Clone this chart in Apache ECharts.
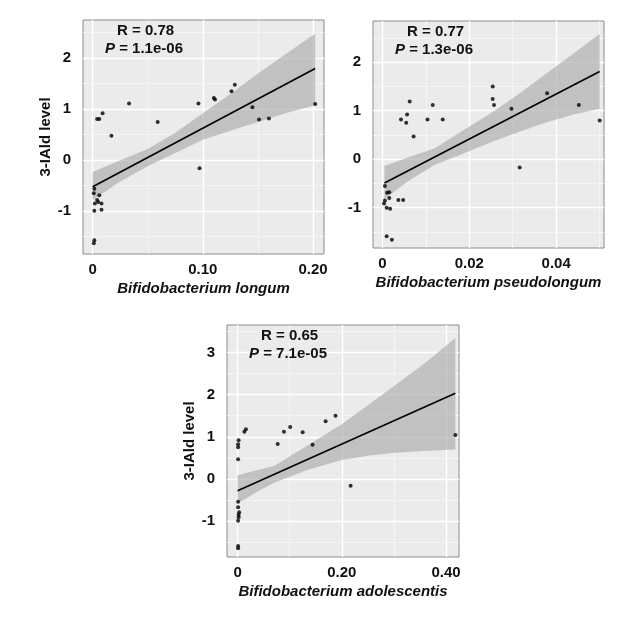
<!DOCTYPE html>
<html><head><meta charset="utf-8">
<script src="https://cdn.jsdelivr.net/npm/echarts@6/dist/echarts.min.js"></script>
<style>html,body{margin:0;padding:0;background:#fff}#c{width:622px;height:617px}</style>
</head><body><div id="c"></div>
<script>
// Panel 1: Bifidobacterium longum
const longumPts = [[0.033,1.11],[0.096,1.11],[0.110,1.22],[0.111,1.19],[0.126,1.35],[0.129,1.48],[0.145,1.04],[0.151,0.80],[0.160,0.82],[0.202,1.10],[0.059,0.75],[0.097,-0.16],[0.017,0.48],[0.009,0.92],[0.004,0.81],[0.006,0.81],[0.0015,-0.56],[0.001,-0.65],[0.006,-0.69],[0.004,-0.78],[0.005,-0.82],[0.008,-0.85],[0.002,-0.85],[0.0015,-0.99],[0.008,-0.97],[0.0015,-1.57],[0.001,-1.63]];
const longumLine = [[0,-0.52],[0.202,1.80]];
const longumBand = [[0,-0.78,-0.23],[0.025,-0.42,0.0],[0.05,-0.12,0.22],[0.075,0.14,0.54],[0.10,0.40,0.92],[0.125,0.58,1.30],[0.15,0.75,1.70],[0.175,0.92,2.08],[0.202,1.08,2.48]];
// Panel 2: Bifidobacterium pseudolongum
const pseudoPts = [[0.0043,0.82],[0.0057,0.92],[0.0055,0.75],[0.0063,1.19],[0.0072,0.47],[0.0104,0.82],[0.0116,1.12],[0.0139,0.82],[0.0254,1.50],[0.0254,1.24],[0.0257,1.12],[0.0297,1.04],[0.0316,-0.17],[0.0379,1.36],[0.0452,1.12],[0.0500,0.80],[0.0006,-0.55],[0.0011,-0.69],[0.0016,-0.68],[0.0006,-0.85],[0.0016,-0.80],[0.0004,-0.91],[0.001,-1.0],[0.0018,-1.02],[0.0037,-0.84],[0.0048,-0.84],[0.001,-1.59],[0.0022,-1.66]];
const pseudoLine = [[0.0005,-0.49],[0.050,1.81]];
const pseudoBand = [[0.0005,-0.82,-0.14],[0.006,-0.45,0.04],[0.012,-0.12,0.22],[0.019,0.13,0.62],[0.025,0.35,0.95],[0.031,0.55,1.32],[0.0375,0.75,1.75],[0.044,0.92,2.18],[0.050,1.04,2.58]];
// Panel 3: Bifidobacterium adolescentis
const adolPts = [[0.002,0.92],[0.001,0.82],[0.001,0.75],[0.001,0.47],[0.013,1.12],[0.016,1.18],[0.077,0.83],[0.089,1.12],[0.101,1.23],[0.125,1.11],[0.144,0.81],[0.169,1.37],[0.188,1.50],[0.217,-0.16],[0.418,1.04],[0.001,-0.54],[0.001,-0.67],[0.003,-0.79],[0.002,-0.85],[0.002,-0.91],[0.001,-0.99],[0.001,-1.59],[0.001,-1.64]];
const adolLine = [[0,-0.28],[0.418,2.03]];
const adolBand = [[0,-0.58,0.09],[0.035,-0.32,0.20],[0.07,-0.09,0.31],[0.135,0.22,0.80],[0.2,0.45,1.30],[0.25,0.55,1.75],[0.3,0.62,2.20],[0.36,0.66,2.75],[0.418,0.70,3.34]];

const xMajor1=[0,0.1,0.2], xMinor1=[0.05,0.15];
const xMajor2=[0,0.02,0.04], xMinor2=[0.01,0.03,0.05];
const xMajor3=[0,0.2,0.4], xMinor3=[0.1,0.3];
const yMajor12=[-1,0,1,2], yMinor12=[-1.5,-0.5,0.5,1.5,2.5];
const yMajor3=[-1,0,1,2,3], yMinor3=[-1.5,-0.5,0.5,1.5,2.5,3.5];
const xLabels1=['0','0.10','0.20'], xLabels2=['0','0.02','0.04'], xLabels3=['0','0.20','0.40'];

const panels=[
 {grid:{left:83,top:20,width:241,height:234},x:[-0.0088,0.21],y:[-1.84,2.75],xMaj:xMajor1,xMin:xMinor1,xl:xLabels1,yMaj:yMajor12,yMin:yMinor12,xname:'Bifidobacterium longum',yname:'3-IAld level',pts:longumPts,line:longumLine,band:longumBand,R:'R = 0.78',P:'1.1e-06'},
 {grid:{left:373,top:21,width:231,height:227},x:[-0.00214,0.051],y:[-1.83,2.85],xMaj:xMajor2,xMin:xMinor2,xl:xLabels2,yMaj:yMajor12,yMin:yMinor12,xname:'Bifidobacterium pseudolongum',yname:'',pts:pseudoPts,line:pseudoLine,band:pseudoBand,R:'R = 0.77',P:'1.3e-06'},
 {grid:{left:227,top:325,width:232,height:232},x:[-0.0203,0.425],y:[-1.85,3.65],xMaj:xMajor3,xMin:xMinor3,xl:xLabels3,yMaj:yMajor3,yMin:yMinor3,xname:'Bifidobacterium adolescentis',yname:'3-IAld level',pts:adolPts,line:adolLine,band:adolBand,R:'R = 0.65',P:'7.1e-05'}
];
const F='Arial, "Liberation Sans", sans-serif';
const option={animation:false,grid:[],xAxis:[],yAxis:[],series:[],graphic:[]};
panels.forEach((p,i)=>{
 option.grid.push(Object.assign({show:true,backgroundColor:'#ebebeb',borderColor:'#8a8a8a',borderWidth:1},p.grid));
 const xl=p.xl;
 option.xAxis.push({type:'value',gridIndex:i,min:p.x[0],max:p.x[1],
  axisLine:{show:false},axisTick:{show:false},
  axisLabel:{customValues:p.xMaj,formatter:v=>xl[p.xMaj.findIndex(m=>Math.abs(m-v)<1e-9)]||'',color:'#111',fontWeight:'bold',fontSize:15,fontFamily:F,margin:8},
  splitLine:{show:false},
  name:p.xname,nameLocation:'middle',nameGap:27,nameTextStyle:{fontStyle:'italic',fontWeight:'bold',fontSize:15,fontFamily:F,color:'#111'}});
 option.yAxis.push({type:'value',gridIndex:i,min:p.y[0],max:p.y[1],
  axisLine:{show:false},axisTick:{show:false},
  axisLabel:{customValues:p.yMaj,color:'#111',fontWeight:'bold',fontSize:15,fontFamily:F,margin:12},
  splitLine:{show:false},
  name:p.yname,nameLocation:'middle',nameGap:24,nameRotate:90,nameTextStyle:{fontWeight:'bold',fontSize:15,fontFamily:F,color:'#111'}});
 const ml=[];
 p.xMaj.forEach(v=>ml.push({xAxis:v,lineStyle:{color:'#fff',width:1.4,type:'solid'}}));
 p.xMin.forEach(v=>ml.push({xAxis:v,lineStyle:{color:'#f8f8f8',width:0.7,type:'solid'}}));
 p.yMaj.forEach(v=>ml.push({yAxis:v,lineStyle:{color:'#fff',width:1.4,type:'solid'}}));
 p.yMin.filter(v=>v<p.y[1]).forEach(v=>ml.push({yAxis:v,lineStyle:{color:'#f8f8f8',width:0.7,type:'solid'}}));
 option.series.push({type:'scatter',xAxisIndex:i,yAxisIndex:i,data:[],z:1,silent:true,
  markLine:{silent:true,symbol:'none',label:{show:false},data:ml,z:1,animation:false}});
 const band=p.band;
 option.series.push({type:'custom',xAxisIndex:i,yAxisIndex:i,data:[band[0]],silent:true,z:2,
  renderItem:(params,api)=>{
   const up=band.map(b=>api.coord([b[0],b[2]]));
   const lo=band.slice().reverse().map(b=>api.coord([b[0],b[1]]));
   return {type:'polygon',shape:{points:up.concat(lo)},style:{fill:'rgba(165,165,165,0.6)'}};
  }});
 option.series.push({type:'line',xAxisIndex:i,yAxisIndex:i,data:p.line,symbol:'none',lineStyle:{color:'#000',width:1.6},z:3});
 option.series.push({type:'scatter',xAxisIndex:i,yAxisIndex:i,data:p.pts,symbolSize:4,itemStyle:{color:'#000'},z:4});
 const gx=p.grid.left+22, gy=p.grid.top+3;
 option.graphic.push({type:'text',left:gx+12,top:gy,z:10,style:{text:p.R,font:'bold 15px '+F,fill:'#111'}});
 option.graphic.push({type:'text',left:gx,top:gy+18,z:10,style:{text:'{i|P} = '+p.P,rich:{i:{fontStyle:'italic',fontWeight:'bold',fontSize:15,fontFamily:F}},font:'bold 15px '+F,fill:'#111'}});
});
echarts.init(document.getElementById('c')).setOption(option);
</script></body></html>
